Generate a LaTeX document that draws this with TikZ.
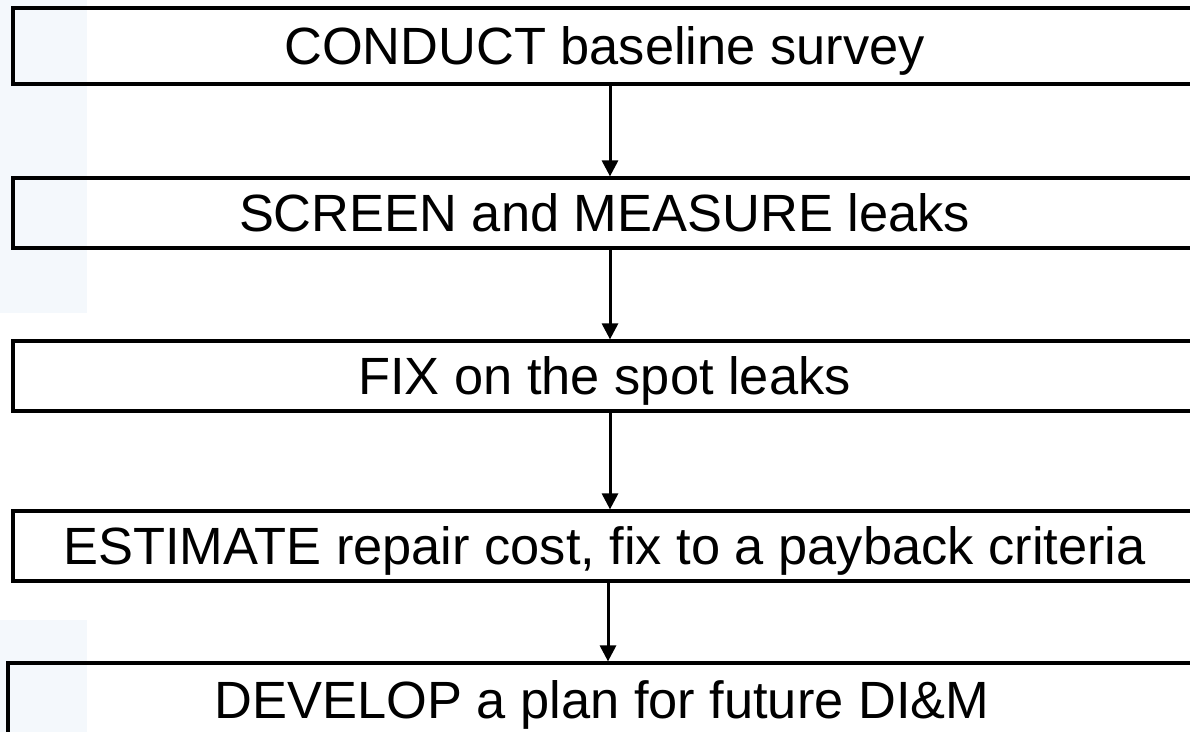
\documentclass[tikz,border=0pt]{standalone}
\usepackage{fontspec}
\setmainfont{Liberation Sans}
\usetikzlibrary{arrows.meta}
\definecolor{bgblue}{HTML}{F4F8FC}
\tikzset{
  stepbox/.style={draw=black, line width=1.6pt, rectangle, inner sep=0pt,
    minimum width=591.5pt, font=\fontsize{26.2}{30}\selectfont,
    text height=18.8pt, text depth=0pt},
  flowarrow/.style={line width=1.5pt, -{Triangle[width=8pt,length=8pt]}}
}
\begin{document}
\begin{tikzpicture}[x=0.5pt,y=-0.5pt]
\useasboundingbox (0,0) rectangle (1190,732);
\fill[bgblue] (0,0) rectangle (87,313);
\fill[bgblue] (0,620) rectangle (87,732);
\node[stepbox, minimum height=38pt] (b1) at (604.5,46) {CONDUCT baseline survey};
\node[stepbox, minimum height=35pt] (b2) at (604.5,213) {SCREEN and MEASURE leaks};
\node[stepbox, minimum height=35pt] (b3) at (604.5,376) {FIX on the spot leaks};
\node[stepbox, minimum height=35pt] (b4) at (604.5,546) {ESTIMATE repair cost, fix to a payback criteria};
\node[stepbox, minimum width=594pt, minimum height=37pt] (b5) at (602,700) {DEVELOP a plan for future DI\&M};
\coordinate (ax) at (610,0);
\coordinate (ay) at (608,0);
\draw[flowarrow] (b1.south -| ax) -- (b2.north -| ax);
\draw[flowarrow] (b2.south -| ax) -- (b3.north -| ax);
\draw[flowarrow] (b3.south -| ax) -- (b4.north -| ax);
\draw[flowarrow] (b4.south -| ay) -- (b5.north -| ay);
\end{tikzpicture}
\end{document}
